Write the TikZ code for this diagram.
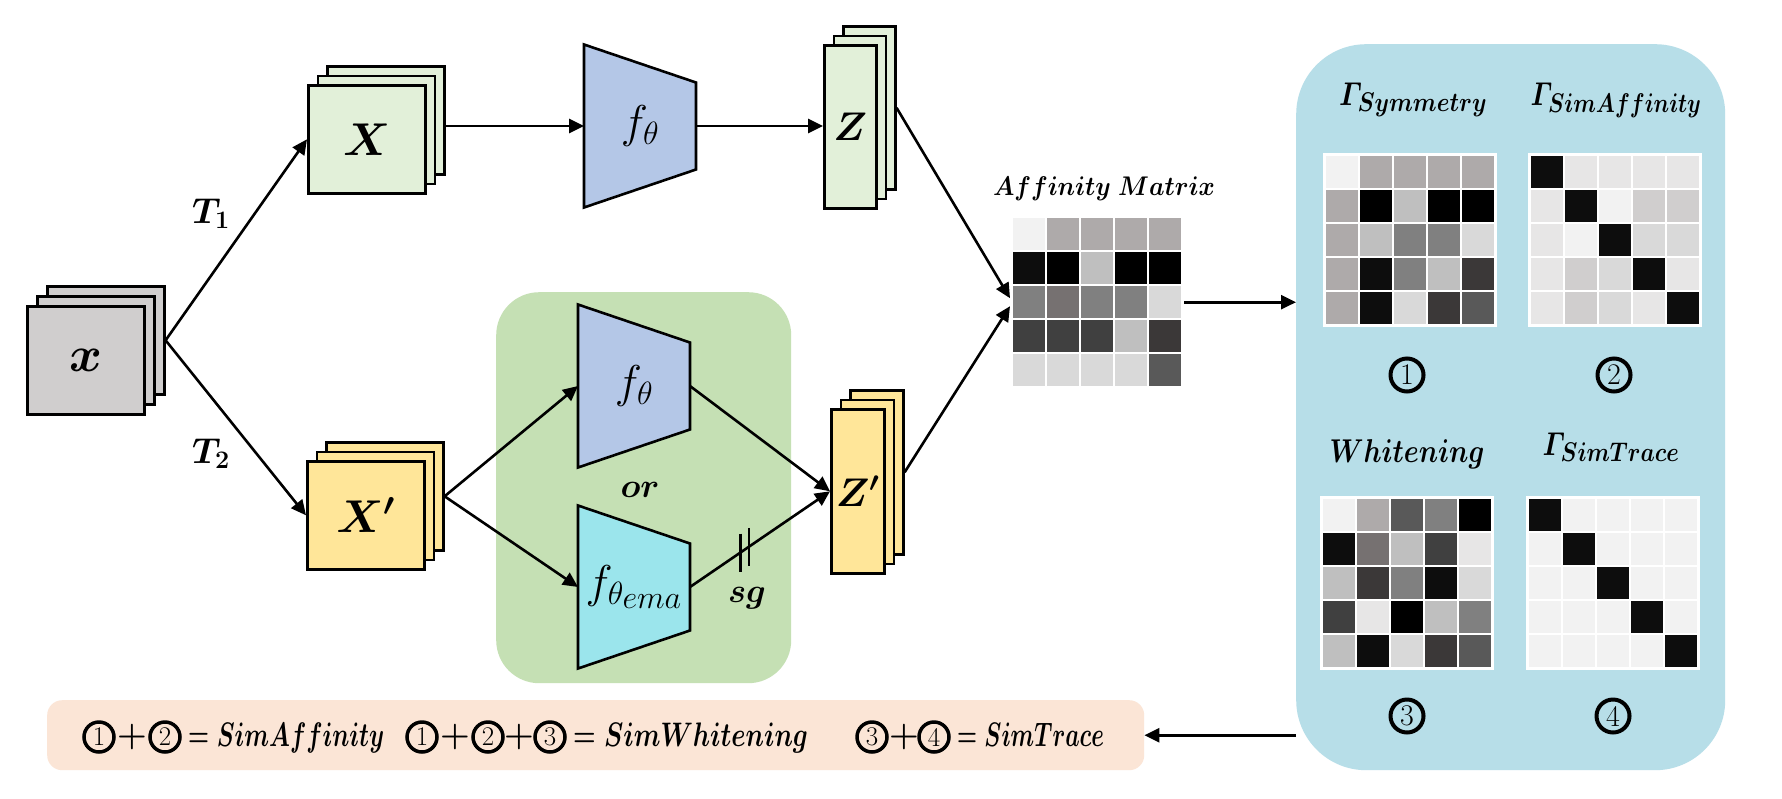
\RequirePackage{fix-cm}
\documentclass[tikz,border=0pt]{standalone}
\usepackage{amsmath}
\usepackage{graphicx}
\usetikzlibrary{arrows.meta,calc}
\definecolor{cgray}{HTML}{D0CECE}
\definecolor{cgreen}{HTML}{E2F0D9}
\definecolor{cblue}{HTML}{B4C7E7}
\definecolor{cyel}{HTML}{FFE699}
\definecolor{cgrp}{HTML}{C5E0B4}
\definecolor{ccyan}{HTML}{9BE5EC}
\definecolor{cpanel}{HTML}{B7DEE8}
\definecolor{cbar}{HTML}{FBE5D6}
\definecolor{gA}{HTML}{F2F2F2}
\definecolor{gB}{HTML}{AEAAAA}
\definecolor{gC}{HTML}{000000}
\definecolor{gD}{HTML}{0D0D0D}
\definecolor{gE}{HTML}{BFBFBF}
\definecolor{gF}{HTML}{808080}
\definecolor{gG}{HTML}{767171}
\definecolor{gH}{HTML}{D9D9D9}
\definecolor{gI}{HTML}{404040}
\definecolor{gJ}{HTML}{3B3838}
\definecolor{gK}{HTML}{595959}
\definecolor{gL}{HTML}{E7E6E6}
\definecolor{gM}{HTML}{D0CECE}
% stack of three sheets: name, x, y (front top-left), w, h, offset, colour, label
\newcommand\stackbox[8]{%
  \node[layer,fill=#7,minimum width=#4,minimum height=#5] (#1b) at ({#2+2*#6},{#3-2*#6}) {};
  \node[layer,fill=#7,minimum width=#4,minimum height=#5] (#1m) at ({#2+#6},{#3-#6}) {};
  \node[layer,fill=#7,minimum width=#4,minimum height=#5,font=\boldmath] (#1f) at (#2,#3) {#8};
}
% encoder trapezoid: name, left x, centre y, colour, label
\newcommand\trapbox[5]{%
  \draw[enc,fill=#4] (#2,{#3-81.5}) -- ({#2+112},{#3-43.5}) -- ({#2+112},{#3+43.5}) -- (#2,{#3+81.5}) -- cycle;
  \coordinate (#1w) at (#2,#3);
  \coordinate (#1e) at ({#2+112},#3);
  \node[flab] (#1) at ({#2+56},#3) {#5};
}
% 5x5 matrix: name, x, y (top-left), colours
\newcommand\drawmat[4]{%
  \node[fill=white,inner sep=0pt,minimum size=174,anchor=north west] (#1) at (#2,#3) {};
  \foreach \cc [count=\i from 0] in {#4} {
    \pgfmathtruncatemacro\mrow{\i/5}
    \pgfmathtruncatemacro\mcol{\i-5*\mrow}
    \fill[\cc] ({#2+2.6+\mcol*34.2},{#3+2.6+\mrow*34.2}) rectangle ++(32,32);
  }
}
\begin{document}
\begin{tikzpicture}[x=1pt,y=-1pt,
  layer/.style={draw=black,line width=2.6pt,inner sep=0pt,anchor=north west},
  conn/.style={line width=2.6pt,-{Triangle[length=15pt,width=14pt]}},
  wire/.style={line width=2.6pt},
  enc/.style={draw=black,line width=2.6pt,line join=miter},
  flab/.style={font=\fontsize{46}{50}\selectfont,inner sep=0pt},
  tlab/.style={font=\fontsize{36}{38}\selectfont\boldmath,inner sep=0pt,anchor=base},
  minilab/.style={font=\fontsize{34}{36}\selectfont\boldmath,inner sep=0pt,anchor=base},
  ptitle/.style={font=\fontsize{33}{36}\selectfont\boldmath,inner sep=0pt,anchor=base},
  pnum/.style={circle,draw=black,line width=4pt,minimum size=33,inner sep=0pt,font=\fontsize{30}{30}\selectfont},
  bnum/.style={circle,draw=black,line width=3.5pt,minimum size=30,inner sep=0pt,font=\fontsize{27}{27}\selectfont},
  bop/.style={font=\fontsize{34}{34}\selectfont\boldmath,inner sep=0pt},
  btext/.style={font=\fontsize{34}{34}\selectfont\boldmath,inner sep=0pt,anchor=base west},
]
\useasboundingbox (0,0) rectangle (1782,798);
\fill[white] (0,0) rectangle (1782,798);

% backgrounds
\node[fill=cpanel,rounded corners=70pt,minimum width=429,minimum height=726,anchor=north west,inner sep=0pt] (panel) at (1296,44) {};
\node[fill=cgrp,rounded corners=43pt,minimum width=295,minimum height=391,anchor=north west,inner sep=0pt] (grp) at (496,292) {};
\node[fill=cbar,rounded corners=15pt,minimum width=1097,minimum height=70,anchor=north west,inner sep=0pt] (bar) at (47,700) {};

% stacks
\stackbox{in}{26}{305}{117}{108}{10}{cgray}{\fontsize{50}{52}\selectfont$x$}
\stackbox{X}{307}{84}{117}{108}{9.5}{cgreen}{\fontsize{46}{48}\selectfont$X$}
\stackbox{Xp}{306}{460}{117}{108}{9.5}{cyel}{\fontsize{46}{48}\selectfont$X'$}
\stackbox{Z}{823}{44}{52}{163}{9.5}{cgreen}{\fontsize{40}{42}\selectfont$Z$}
\stackbox{Zp}{830}{408}{53}{164}{9.5}{cyel}{\fontsize{40}{42}\selectfont$Z'$}

% encoders
\trapbox{f1}{584}{126}{cblue}{$f_\theta$}
\trapbox{f2}{578}{386}{cblue}{$f_\theta$}
\trapbox{f3}{578}{587}{ccyan}{$f_{\theta_{\scriptstyle ema}}$}

% matrices
\drawmat{aff}{1010}{215}{gA,gB,gB,gB,gB,gD,gC,gE,gC,gC,gF,gG,gF,gF,gH,gI,gI,gI,gE,gJ,gH,gH,gH,gH,gK}
\drawmat{msym}{1323}{153}{gA,gB,gB,gB,gB,gB,gC,gE,gC,gC,gB,gE,gF,gF,gH,gB,gD,gF,gE,gJ,gB,gD,gH,gJ,gK}
\drawmat{msa}{1528}{153}{gD,gL,gL,gL,gL,gL,gD,gA,gM,gM,gL,gA,gD,gH,gH,gL,gM,gH,gD,gL,gL,gM,gH,gL,gD}
\drawmat{mwh}{1320}{496}{gA,gB,gK,gF,gC,gD,gG,gE,gI,gL,gE,gJ,gF,gD,gH,gI,gL,gC,gE,gF,gE,gD,gH,gJ,gK}
\drawmat{mst}{1526}{496}{gD,gA,gA,gA,gA,gA,gD,gA,gA,gA,gA,gA,gD,gA,gA,gA,gA,gA,gD,gA,gA,gA,gA,gA,gD}

% connectors
\coordinate (aIn1) at ([yshift=4pt]aff.west);
\coordinate (aIn2) at ([yshift=-4pt]aff.west);
\draw[conn] (inb.east) -- (Xf.west);
\draw[conn] (inb.east) -- (Xpf.west);
\draw[conn] (Xb.east |- f1w) -- (f1w);
\draw[conn] (f1e) -- (Zf.west |- f1e);
\draw[conn] (Xpb.east) -- (f2w);
\draw[conn] (Xpb.east) -- (f3w);
\draw[conn] (f2e) -- (Zpf.west);
\draw[conn] (f3e) -- (Zpf.west);
\coordinate (s1) at ($(f3e)!0.36!(Zpf.west)$);
\coordinate (s2) at ($(f3e)!0.42!(Zpf.west)$);
\draw[wire] ([yshift=19pt]s1) -- ([yshift=-19pt]s1);
\draw[wire] ([yshift=19pt]s2) -- ([yshift=-19pt]s2);
\draw[conn] (Zb.east) -- (aIn1);
\draw[conn] (Zpb.east) -- (aIn2);
\draw[conn] (aff.east) -- (aff.east -| panel.west);
\draw[conn] (panel.west |- bar.east) -- (bar.east);

% labels
\node[tlab] (t1) at (211,223) {$T_1$};
\node[tlab] (t2) at (211,463) {$T_2$};
\node[minilab] (or) at (640,497) {$or$};
\node[minilab] (sg) at (747,602) {$sg$};
\node[ptitle,font=\fontsize{27}{29}\selectfont\boldmath] (afft) at (1104,195) {\resizebox{222pt}{\height}{$Affinity\ Matrix$}};
\node[ptitle] (tsym) at (1413,105) {\resizebox{148pt}{\height}{$\varGamma_{\mbox{\fontsize{27}{27}\selectfont$Symmetry$}}$}};
\node[ptitle] (tsa) at (1616,105) {\resizebox{171pt}{\height}{$\varGamma_{\mbox{\fontsize{27}{27}\selectfont$SimAffinity$}}$}};
\node[ptitle] (twh) at (1407,462) {\resizebox{155pt}{\height}{$Whitening$}};
\node[ptitle] (tst) at (1611,455) {\resizebox{137pt}{\height}{$\varGamma_{\mbox{\fontsize{27}{27}\selectfont$SimTrace$}}$}};
\node[pnum] (n1) at (1407,375) {1};
\node[pnum] (n2) at (1614,375) {2};
\node[pnum] (n3) at (1407,716) {3};
\node[pnum] (n4) at (1613,716) {4};

% bottom bar
\node[bnum] (b1) at (99,737) {1};
\node[bop] (bp1) at (132,737) {$+$};
\node[bnum] (b2) at (165,737) {2};
\node[btext] (e1) at (188,746) {\resizebox{196pt}{\height}{$=SimAffinity$}};
\node[bnum] (b3) at (422,737) {1};
\node[bop] (bp2) at (455,737) {$+$};
\node[bnum] (b4) at (488,737) {2};
\node[bop] (bp3) at (519,737) {$+$};
\node[bnum] (b5) at (550,737) {3};
\node[btext] (e2) at (573,746) {\resizebox{235pt}{\height}{$=SimWhitening$}};
\node[bnum] (b6) at (872,737) {3};
\node[bop] (bp4) at (904,737) {$+$};
\node[bnum] (b7) at (934,737) {4};
\node[btext] (e3) at (957,746) {\resizebox{147pt}{\height}{$=SimTrace$}};
\end{tikzpicture}
\end{document}
